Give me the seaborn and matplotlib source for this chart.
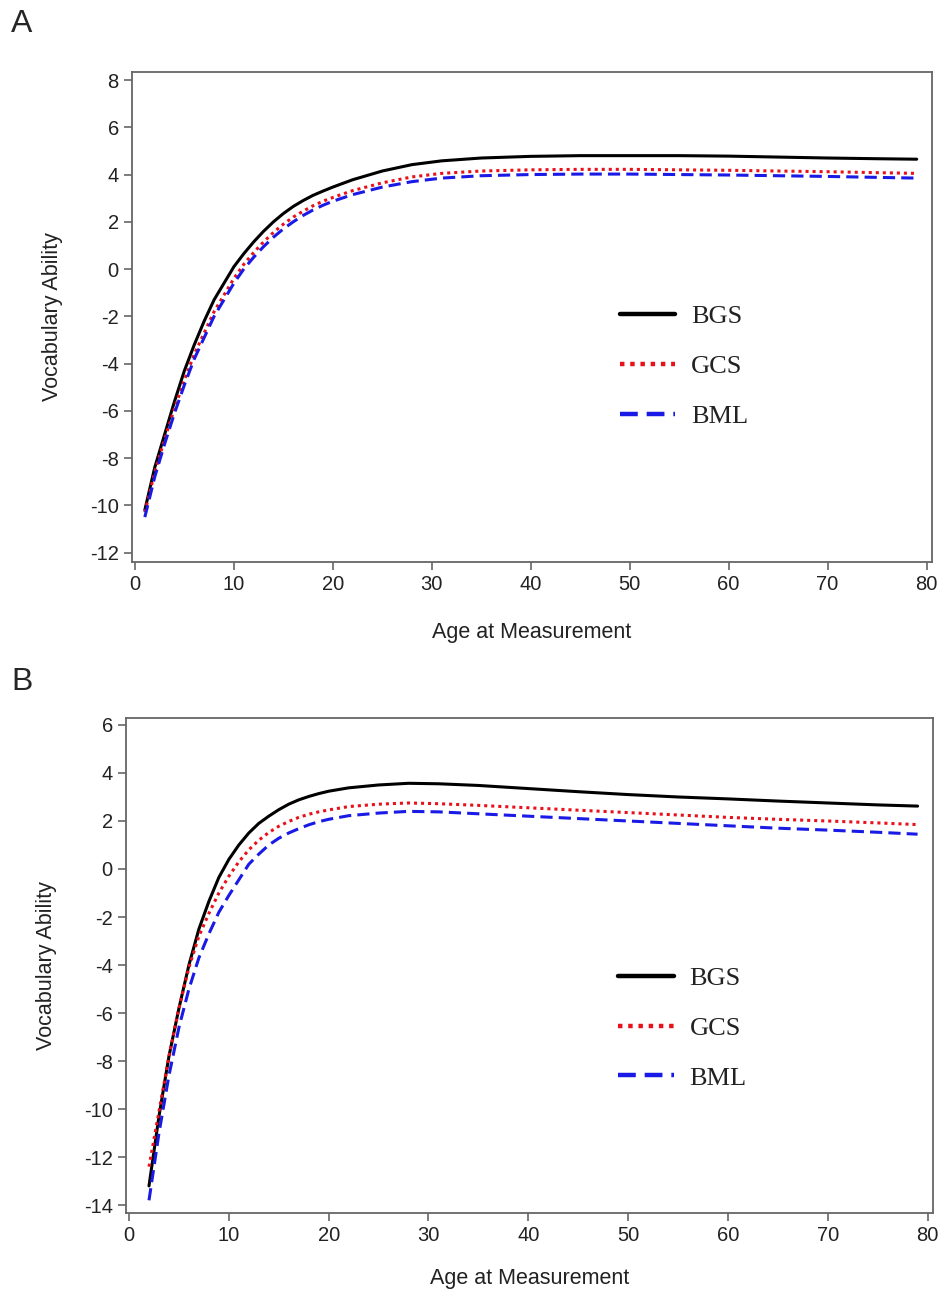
import numpy as np
import pandas as pd
import seaborn as sns
from matplotlib import pyplot as plt

# Panel A values
age_a = [1, 2, 3, 4, 5, 6, 7, 8, 9, 10, 11, 12, 13, 14, 15, 16, 17, 18, 19, 20,
         22, 25, 28, 31, 35, 40, 45, 50, 55, 60, 65, 70, 75, 79]
bgs_a = [-10.2, -8.4, -7.0, -5.6, -4.3, -3.2, -2.2, -1.3, -0.6, 0.1, 0.65, 1.15, 1.6,
         2.0, 2.35, 2.65, 2.9, 3.12, 3.3, 3.47, 3.78, 4.15, 4.42, 4.58, 4.7, 4.77,
         4.8, 4.8, 4.8, 4.78, 4.74, 4.7, 4.67, 4.65]
gcs_a = [-10.3, -8.6, -7.2, -5.9, -4.7, -3.6, -2.7, -1.8, -1.1, -0.4, 0.2, 0.7, 1.15,
         1.55, 1.9, 2.2, 2.45, 2.68, 2.87, 3.03, 3.32, 3.65, 3.9, 4.05, 4.15, 4.2,
         4.22, 4.22, 4.2, 4.18, 4.15, 4.12, 4.08, 4.05]
bml_a = [-10.5, -8.8, -7.4, -6.1, -4.9, -3.8, -2.9, -2.0, -1.3, -0.6, 0.0, 0.5, 0.95,
         1.35, 1.7, 2.0, 2.27, 2.5, 2.7, 2.87, 3.15, 3.47, 3.7, 3.85, 3.95, 4.0,
         4.02, 4.02, 4.0, 3.98, 3.95, 3.92, 3.88, 3.85]

# Panel B values
age_b = [2, 3, 4, 5, 6, 7, 8, 9, 10, 11, 12, 13, 14, 15, 16, 17, 18, 19, 20,
         22, 25, 28, 31, 35, 40, 45, 50, 55, 60, 65, 70, 75, 79]
bgs_b = [-13.2, -10.3, -7.8, -5.8, -4.0, -2.5, -1.35, -0.35, 0.4, 1.0, 1.5, 1.9, 2.2,
         2.47, 2.7, 2.88, 3.02, 3.14, 3.24, 3.38, 3.5, 3.57, 3.55, 3.48, 3.35, 3.22,
         3.1, 3.0, 2.92, 2.83, 2.75, 2.67, 2.62]
gcs_b = [-12.4, -10.1, -7.8, -5.8, -4.1, -2.8, -1.85, -1.0, -0.3, 0.3, 0.8, 1.2, 1.52,
         1.78, 1.98, 2.15, 2.28, 2.38, 2.46, 2.6, 2.7, 2.75, 2.72, 2.65, 2.55, 2.45,
         2.35, 2.25, 2.15, 2.07, 2.0, 1.92, 1.85]
bml_b = [-13.8, -11.0, -8.6, -6.6, -5.0, -3.7, -2.7, -1.8, -1.1, -0.45, 0.2, 0.62, 1.0,
         1.28, 1.5, 1.68, 1.84, 1.97, 2.07, 2.22, 2.33, 2.4, 2.38, 2.3, 2.2, 2.1,
         2.0, 1.9, 1.8, 1.7, 1.62, 1.53, 1.45]

methods = ["BGS", "GCS", "BML"]
colors = {"BGS": "black", "GCS": "#e8101a", "BML": "#1a1ae6"}
styles = {"BGS": "-", "GCS": (0, (1, 1.3)), "BML": (0, (4, 2))}

sns.set_style("ticks")
plt.rcParams['font.family'] = ['Liberation Sans', 'DejaVu Sans']
plt.rcParams['axes.unicode_minus'] = False

fig = plt.figure(figsize=(9.42, 13), dpi=100)
ax_a = fig.add_axes([0.1401, 0.5677, 0.8493, 0.3769])
ax_b = fig.add_axes([0.1338, 0.0669, 0.8567, 0.3808])


def draw_panel(ax, age, series, ylim, yticks, leg_anchor, label_y):
    for m in methods:
        df = pd.DataFrame({"age": age, "val": series[m]})
        sns.lineplot(data=df, x="age", y="val", ax=ax, color=colors[m],
                     linestyle=styles[m], linewidth=2.2, label=m)
    ax.set_xlim(-0.3, 80.55)
    ax.set_ylim(*ylim)
    ax.set_xticks(np.arange(0, 81, 10))
    ax.set_yticks(yticks)
    ax.tick_params(direction="out", length=6, width=1.2, color="#666666",
                   labelsize=14.5, labelcolor="#222222")
    for s in ax.spines.values():
        s.set_visible(True)
        s.set_color("#666666")
        s.set_linewidth(1.3)
    ax.set_xlabel("Age at Measurement", fontsize=15.5, color="#222222")
    ax.set_ylabel("Vocabulary Ability", fontsize=15.5, color="#222222")
    ax.xaxis.set_label_coords(0.5, label_y)
    ax.yaxis.set_label_coords(-0.086, 0.5)
    leg = ax.legend(loc="upper left", bbox_to_anchor=leg_anchor, frameon=False,
                    prop={"family": "Liberation Serif", "size": 19},
                    handlelength=2.1, handletextpad=0.6, labelspacing=1.0,
                    borderpad=0, borderaxespad=0)
    for line in leg.get_lines():
        line.set_linewidth(3.2)
    for t in leg.get_texts():
        t.set_color("#222222")


draw_panel(ax_a, age_a, {"BGS": bgs_a, "GCS": gcs_a, "BML": bml_a},
           (-12.4, 8.34), np.arange(-12, 9, 2), (0.61, 0.525), -0.122)
draw_panel(ax_b, age_b, {"BGS": bgs_b, "GCS": gcs_b, "BML": bml_b},
           (-14.33, 6.29), np.arange(-14, 7, 2), (0.61, 0.498), -0.111)

fig.text(0.012, 0.993, "A", fontsize=23, va="top", ha="left")
fig.text(0.012, 0.487, "B", fontsize=23, va="top", ha="left")

fig.savefig("out.png", dpi=100)
